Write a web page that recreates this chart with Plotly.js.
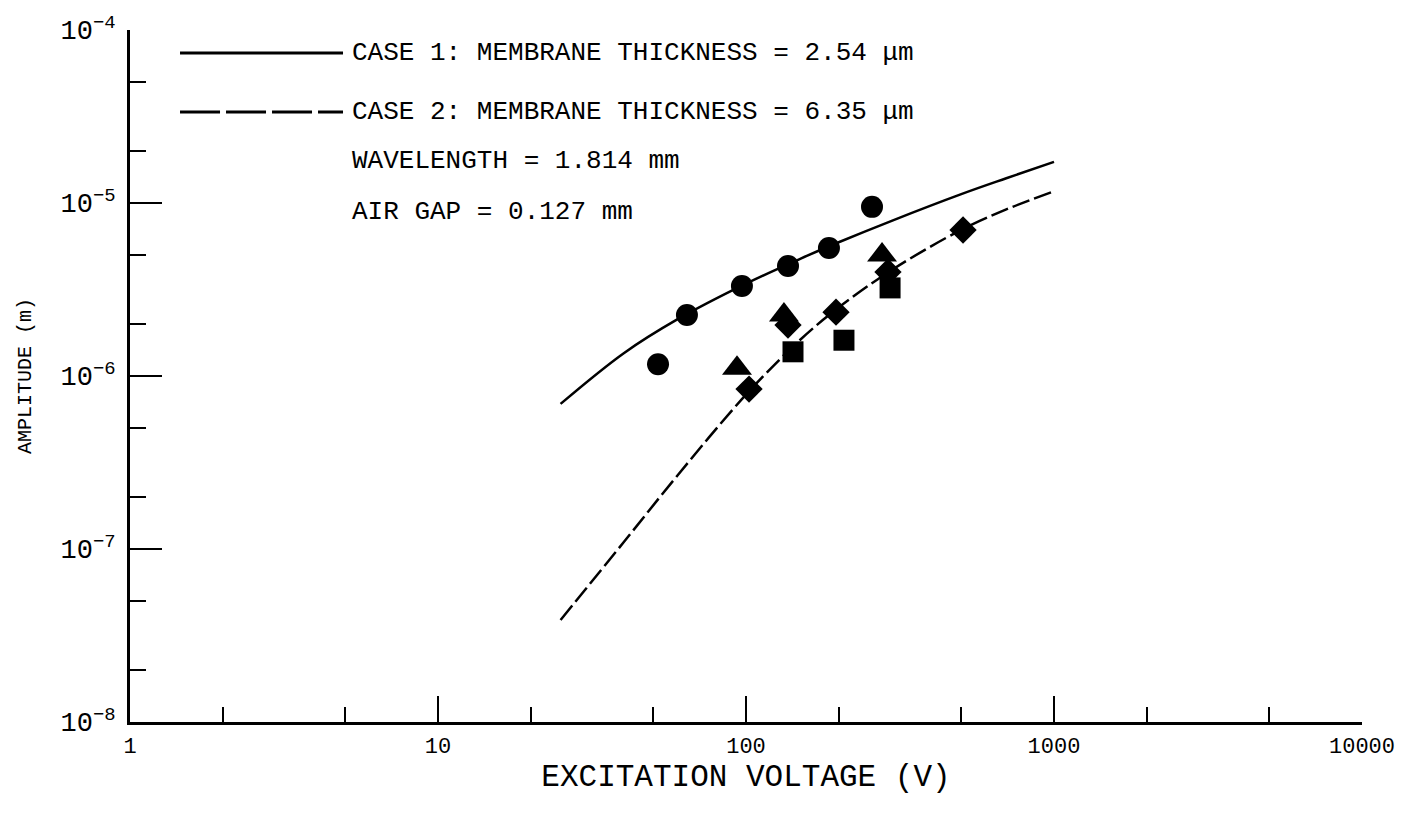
<!DOCTYPE html>
<html>
<head>
<meta charset="utf-8">
<script src="https://cdn.plot.ly/plotly-3.0.1.min.js"></script>
<style>html,body{margin:0;padding:0;background:#fff;}#chart{width:1408px;height:826px;}</style>
</head>
<body>
<div id="chart"></div>
<script>
// Theory curves
const curveV = [25, 40, 60, 100, 150, 200, 300, 500, 700, 1000];
const case1Amp = [6.9e-7, 1.35e-6, 2.13e-6, 3.42e-6, 4.76e-6, 5.93e-6, 7.94e-6, 1.125e-5, 1.39e-5, 1.73e-5];
const case2Amp = [3.89e-8, 1.09e-7, 2.67e-7, 7.80e-7, 1.62e-6, 2.49e-6, 4.14e-6, 7.0e-6, 9.18e-6, 1.17e-5];

// Measured points
const circleV = [51.8, 64.3, 97, 136.9, 185.9, 256.5];
const circleAmp = [1.17e-6, 2.25e-6, 3.31e-6, 4.32e-6, 5.5e-6, 9.5e-6];
const triangleV = [93.5, 132.8, 276.5];
const triangleAmp = [1.11e-6, 2.25e-6, 5.0e-6];
const diamondV = [102.3, 136.9, 196, 289, 506.6];
const diamondAmp = [8.4e-7, 1.97e-6, 2.34e-6, 3.99e-6, 6.98e-6];
const squareV = [142.1, 208, 293.6];
const squareAmp = [1.38e-6, 1.61e-6, 3.23e-6];

// Axis ticks
const xTickVals = [1, 10, 100, 1000, 10000];
const xTickText = ['1', '10', '100', '1000', '10000'];
const xMinorVals = [2, 5, 20, 50, 200, 500, 2000, 5000];
const yTickVals = [1e-8, 1e-7, 1e-6, 1e-5, 1e-4];
const yTickText = ['10<sup>−8</sup>', '10<sup>−7</sup>', '10<sup>−6</sup>', '10<sup>−5</sup>', '10<sup>−4</sup>'];
const yMinorVals = [2e-8, 5e-8, 2e-7, 5e-7, 2e-6, 5e-6, 2e-5, 5e-5];

// Legend / notes text
const legendLines = [
  'CASE 1: MEMBRANE THICKNESS = 2.54 μm',
  'CASE 2: MEMBRANE THICKNESS = 6.35 μm',
  'WAVELENGTH = 1.814 mm',
  'AIR GAP = 0.127 mm'
];

const FONT = 'Liberation Mono, Courier New, monospace';

const traces = [
  {x: curveV, y: case1Amp, mode: 'lines', line: {color: '#000', width: 2.5, shape: 'spline', smoothing: 1}, hoverinfo: 'skip'},
  {x: curveV, y: case2Amp, mode: 'lines', line: {color: '#000', width: 2.5, dash: '18px,5px', shape: 'spline', smoothing: 1}, hoverinfo: 'skip'},
  {x: circleV, y: circleAmp, mode: 'markers', marker: {symbol: 'circle', size: 22, color: '#000'}},
  {x: triangleV, y: triangleAmp, mode: 'markers', marker: {symbol: 'triangle-up', size: 26, color: '#000'}},
  {x: diamondV, y: diamondAmp, mode: 'markers', marker: {symbol: 'diamond', size: 21, color: '#000'}},
  {x: squareV, y: squareAmp, mode: 'markers', marker: {symbol: 'square', size: 21, color: '#000'}}
];

const textY = [0.9668, 0.8815, 0.8107, 0.737];
const annotations = legendLines.map((t, i) => ({
  xref: 'paper', yref: 'paper', x: 0.1786, y: textY[i], xanchor: 'left', yanchor: 'middle',
  text: t, showarrow: false, font: {family: FONT, size: 26, color: '#000'}
}));

const shapes = [
  {type: 'line', xref: 'paper', yref: 'paper', x0: 0.0406, x1: 0.1729, y0: textY[0], y1: textY[0], line: {color: '#000', width: 3}},
  {type: 'line', xref: 'paper', yref: 'paper', x0: 0.0406, x1: 0.1729, y0: textY[1], y1: textY[1], line: {color: '#000', width: 3, dash: '40px,6px'}}
];

const layout = {
  width: 1408, height: 826,
  margin: {l: 130, r: 46, t: 30, b: 104},
  paper_bgcolor: '#fff', plot_bgcolor: '#fff',
  showlegend: false,
  font: {family: FONT, color: '#000'},
  xaxis: {
    type: 'log', range: [0, 4],
    tickvals: xTickVals, ticktext: xTickText,
    ticks: 'inside', ticklen: 26, tickwidth: 2, tickcolor: '#000',
    minor: {tickvals: xMinorVals, ticks: 'inside', ticklen: 15, tickwidth: 2, tickcolor: '#000', showgrid: false},
    showline: true, linecolor: '#000', linewidth: 3,
    showgrid: false, zeroline: false,
    tickfont: {family: FONT, size: 22, color: '#000'},
    ticklabelstandoff: 2,
    title: {text: 'EXCITATION VOLTAGE (V)', font: {family: FONT, size: 31, color: '#000'}, standoff: 4}
  },
  yaxis: {
    type: 'log', range: [-8, -4],
    tickvals: yTickVals, ticktext: yTickText,
    ticks: 'inside', ticklen: 32, tickwidth: 2, tickcolor: '#000',
    minor: {tickvals: yMinorVals, ticks: 'inside', ticklen: 16, tickwidth: 2, tickcolor: '#000', showgrid: false},
    showline: true, linecolor: '#000', linewidth: 3,
    showgrid: false, zeroline: false,
    tickfont: {family: FONT, size: 27, color: '#000'},
    ticklabelstandoff: 6,
    title: {text: 'AMPLITUDE (m)', font: {family: FONT, size: 20, color: '#000'}, standoff: 24}
  },
  annotations: annotations,
  shapes: shapes
};

Plotly.newPlot('chart', traces, layout, {displayModeBar: false, staticPlot: true});
</script>
</body>
</html>
